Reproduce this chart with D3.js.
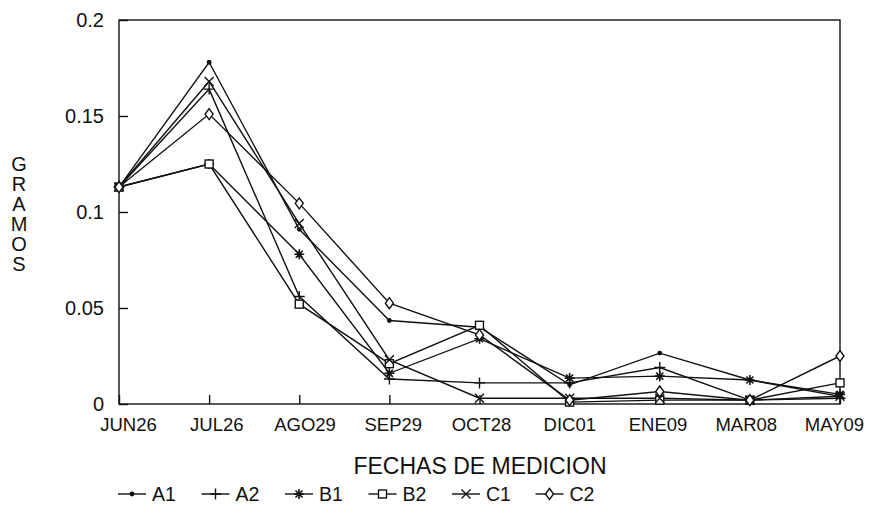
<!DOCTYPE html>
<html>
<head>
<meta charset="utf-8">
<script src="https://cdn.jsdelivr.net/npm/d3@7"></script>
<style>
  html, body { margin: 0; padding: 0; background: #fff; }
  svg text { font-family: "Liberation Sans", Arial, sans-serif; fill: #111; }
</style>
</head>
<body>
<svg id="chart" width="890" height="514"></svg>
<script>
// Measurement dates (x axis categories)
const fechas = ["JUN26", "JUL26", "AGO29", "SEP29", "OCT28", "DIC01", "ENE09", "MAR08", "MAY09"];

// Weight in grams per treatment
const A1 = [0.113, 0.178, 0.091, 0.0435, 0.040, 0.010, 0.0265, 0.0125, 0.004];
const A2 = [0.113, 0.164, 0.056, 0.013, 0.011, 0.011, 0.019, 0.002, 0.003];
const B1 = [0.113, 0.125, 0.078, 0.016, 0.034, 0.0135, 0.0145, 0.0125, 0.005];
const B2 = [0.113, 0.125, 0.052, 0.021, 0.041, 0.001, 0.002, 0.002, 0.011];
const C1 = [0.113, 0.168, 0.094, 0.023, 0.003, 0.003, 0.003, 0.002, 0.004];
const C2 = [0.113, 0.151, 0.1045, 0.0525, 0.036, 0.002, 0.0065, 0.002, 0.025];

const yTicks = [0, 0.05, 0.1, 0.15, 0.2];
const yTickLabels = ["0", "0.05", "0.1", "0.15", "0.2"];

const series = [
  { name: "A1", values: A1, marker: "dot" },
  { name: "A2", values: A2, marker: "plus" },
  { name: "B1", values: B1, marker: "star" },
  { name: "B2", values: B2, marker: "square" },
  { name: "C1", values: C1, marker: "cross" },
  { name: "C2", values: C2, marker: "diamond" }
];

const ink = "#111";
const svg = d3.select("#chart");
const plotLeft = 119, plotRight = 840, plotTop = 20, plotBottom = 404;

const x = d3.scalePoint().domain(fechas).range([plotLeft, plotRight]);
const y = d3.scaleLinear().domain([0, 0.2]).range([plotBottom, plotTop]);
// Date labels sit on a slightly narrower span than the tick marks
const xLabel = d3.scalePoint().domain(fechas).range([128, 834]);

// Frame
svg.append("rect")
  .attr("x", plotLeft).attr("y", plotTop)
  .attr("width", plotRight - plotLeft).attr("height", plotBottom - plotTop)
  .attr("fill", "none").attr("stroke", ink).attr("stroke-width", 1.4);

// Y axis with inward ticks
const yAxis = svg.append("g").attr("transform", `translate(${plotLeft},0)`)
  .call(d3.axisLeft(y).tickValues(yTicks)
    .tickFormat((d, i) => yTickLabels[i])
    .tickSizeInner(-9).tickSizeOuter(0).tickPadding(15));
yAxis.select(".domain").remove();
yAxis.selectAll("line").attr("stroke", ink).attr("stroke-width", 1.4);
yAxis.selectAll("text").attr("font-size", 20).attr("fill", ink)
  .attr("font-family", "Liberation Sans, Arial, sans-serif");

// X axis with inward ticks
const xAxis = svg.append("g").attr("transform", `translate(0,${plotBottom})`)
  .call(d3.axisBottom(x).tickSizeInner(-9).tickSizeOuter(0).tickPadding(14));
xAxis.select(".domain").remove();
xAxis.selectAll("line").attr("stroke", ink).attr("stroke-width", 1.4);
xAxis.selectAll("text").attr("font-size", 18.5).attr("fill", ink)
  .attr("font-family", "Liberation Sans, Arial, sans-serif")
  .attr("x", d => xLabel(d) - x(d));

// Axis titles
svg.append("text")
  .attr("x", 480).attr("y", 474)
  .attr("text-anchor", "middle")
  .attr("font-size", 23)
  .text("FECHAS DE MEDICION");

const yTitle = "GRAMOS".split("");
svg.append("g").selectAll("text").data(yTitle).join("text")
  .attr("x", 19).attr("y", (d, i) => 171 + i * 20)
  .attr("text-anchor", "middle")
  .attr("font-size", 20)
  .text(d => d);

// Marker drawing
function drawMarker(g, type, cx, cy) {
  const s = 4.5;
  switch (type) {
    case "dot":
      g.append("circle").attr("cx", cx).attr("cy", cy).attr("r", 2.4).attr("fill", ink);
      break;
    case "plus":
      g.append("path").attr("d", `M${cx - s - 1},${cy}H${cx + s + 1}M${cx},${cy - s - 1}V${cy + s + 1}`)
        .attr("stroke", ink).attr("stroke-width", 1.4);
      break;
    case "star": {
      let d = "";
      for (let k = 0; k < 4; k++) {
        const a = k * Math.PI / 4;
        const dx = Math.cos(a) * (s + 0.5), dy = Math.sin(a) * (s + 0.5);
        d += `M${cx - dx},${cy - dy}L${cx + dx},${cy + dy}`;
      }
      g.append("path").attr("d", d).attr("stroke", ink).attr("stroke-width", 1.6);
      break;
    }
    case "square":
      g.append("rect").attr("x", cx - 4).attr("y", cy - 4).attr("width", 8).attr("height", 8)
        .attr("fill", "#fff").attr("stroke", ink).attr("stroke-width", 1.4);
      break;
    case "cross":
      g.append("path").attr("d", `M${cx - s},${cy - s}L${cx + s},${cy + s}M${cx - s},${cy + s}L${cx + s},${cy - s}`)
        .attr("stroke", ink).attr("stroke-width", 1.4);
      break;
    case "diamond":
      g.append("path").attr("d", `M${cx},${cy - 5.5}L${cx + 4},${cy}L${cx},${cy + 5.5}L${cx - 4},${cy}Z`)
        .attr("fill", "#fff").attr("stroke", ink).attr("stroke-width", 1.4);
      break;
  }
}

// Lines
const line = d3.line().x((d, i) => x(fechas[i])).y(d => y(d));
const lineLayer = svg.append("g");
series.forEach(s => {
  lineLayer.append("path").datum(s.values)
    .attr("d", line)
    .attr("fill", "none").attr("stroke", ink).attr("stroke-width", 1.4);
});

// Markers
const markLayer = svg.append("g");
series.forEach(s => {
  s.values.forEach((v, i) => drawMarker(markLayer, s.marker, x(fechas[i]), y(v)));
});

// Legend
const legend = svg.append("g");
const legX0 = 118, legStep = 83.5, legY = 494;
series.forEach((s, i) => {
  const lx = legX0 + i * legStep;
  legend.append("line")
    .attr("x1", lx).attr("x2", lx + 28).attr("y1", legY).attr("y2", legY)
    .attr("stroke", ink).attr("stroke-width", 1.4);
  drawMarker(legend, s.marker, lx + 14, legY);
  legend.append("text")
    .attr("x", lx + 34).attr("y", legY + 7)
    .attr("font-size", 19.5)
    .text(s.name);
});
</script>
</body>
</html>
